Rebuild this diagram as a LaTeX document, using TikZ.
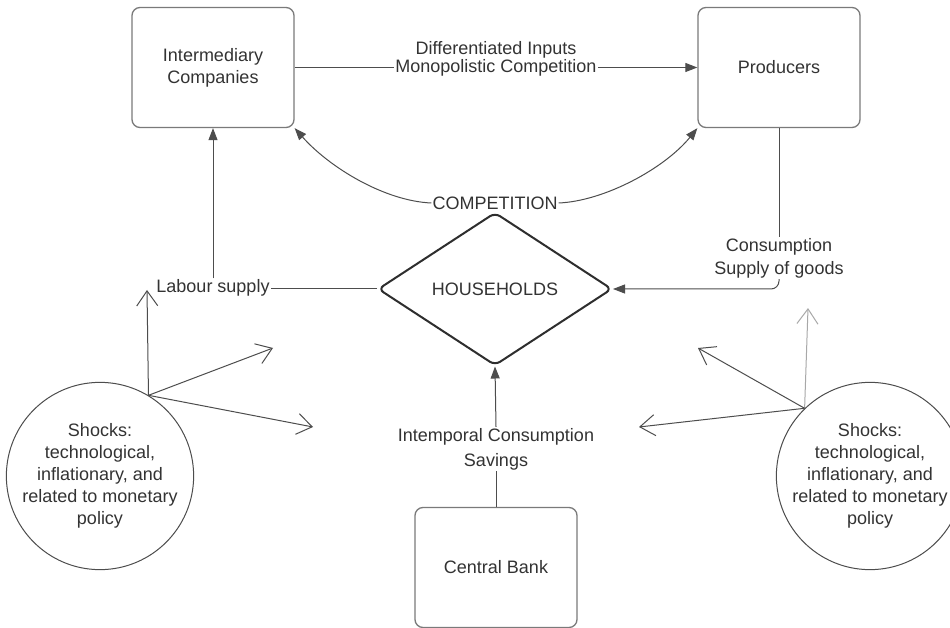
\documentclass[tikz,border=0pt]{standalone}
\usepackage{fontspec}
\setmainfont{Liberation Sans}
\usetikzlibrary{shapes.geometric,arrows.meta}
\definecolor{txt}{HTML}{333333}
\definecolor{boxc}{HTML}{7A7A7A}
\definecolor{linec}{HTML}{4D4D4D}
\definecolor{darkc}{HTML}{2E2E2E}
\definecolor{lightc}{HTML}{A8A8A8}
\begin{document}
\begin{tikzpicture}[x=1pt,y=-1pt,
  every node/.style={text=txt, font=\fontsize{18}{22}\selectfont},
  box/.style={draw=boxc, line width=1.3pt, rounded corners=8pt, minimum width=162pt, minimum height=120pt, align=center, inner sep=0pt},
  hbox/.style={diamond, draw=darkc, line width=2pt, rounded corners=6pt, minimum width=234pt, minimum height=153pt, inner sep=0pt},
  shock/.style={circle, draw=linec, line width=1pt, minimum size=176pt, align=center, inner sep=0pt},
  lbl/.style={fill=white, inner sep=1pt, align=center},
  conn/.style={draw=linec, line width=1pt},
  tip/.style={-{Triangle[length=12pt,width=9pt]}},
  sarr/.style={draw=linec, line width=1pt, -{Straight Barb[length=15pt,width=21pt]}}
]
\useasboundingbox[fill=white] (0,0) rectangle (950,628);

% main boxes
\node[box] (ic) at (213,67.5) {Intermediary\\Companies};
\node[box] (pr) at (779,67.5) {Producers};
\node[box] (cb) at (496,567.5) {Central Bank};
\node[hbox] (hh) at (495,289) {HOUSEHOLDS};

% shocks
\node[shock] (sl) at (100,476) {\fontsize{18}{22.5}\selectfont Shocks:\\technological,\\inflationary, and\\related to monetary\\policy};
\node[shock] (sr) at (870,476) {\fontsize{18}{22.5}\selectfont Shocks:\\technological,\\inflationary, and\\related to monetary\\policy};

% top connector
\draw[conn,tip] (ic.east) -- (pr.west);
\node[lbl, font=\fontsize{18}{15}\selectfont] (dm) at (496,58.5) {Differentiated Inputs\\Monopolistic Competition};

% competition
\node[lbl] (comp) at (495,203) {COMPETITION};
\draw[conn,{Triangle[length=12pt,width=9pt]}-] (ic.south east) .. controls (330,168) and (385,201) .. (comp.west);
\draw[conn,tip] (comp.east) .. controls (605,201) and (665,168) .. (pr.south west);

% labour supply
\node[lbl] (lab) at (213,288) {Labour supply};
\draw[conn] (hh.west) -- (lab.east |- hh.west);
\draw[conn,tip] (lab.north) -- (ic.south);

% consumption
\node[lbl, font=\fontsize{18}{23}\selectfont] (cons) at (779,258) {Consumption\\Supply of goods};
\draw[conn] (pr.south) -- (cons.north);
\draw[conn,tip,rounded corners=8pt] (cons.south) |- (hh.east);

% central bank
\node[lbl, font=\fontsize{18}{25}\selectfont] (intm) at (496,449) {Intemporal Consumption\\Savings};
\draw[conn] (cb.north) -- (intm.south);
\draw[conn,tip] (intm.north) -- (hh.south);

% shock arrows left
\coordinate (la) at (147,290);
\coordinate (lb) at (273,348);
\coordinate (lc) at (313,427);
\draw[sarr] (sl.59) -- (la);
\draw[sarr] (sl.59) -- (lb);
\draw[sarr] (sl.59) -- (lc);

% shock arrows right
\coordinate (ra) at (808,308);
\coordinate (rb) at (698,348);
\coordinate (rc) at (639,427);
\draw[sarr, draw=lightc] (sr.134) -- (ra);
\draw[sarr] (sr.134) -- (rb);
\draw[sarr] (sr.134) -- (rc);
\end{tikzpicture}
\end{document}
